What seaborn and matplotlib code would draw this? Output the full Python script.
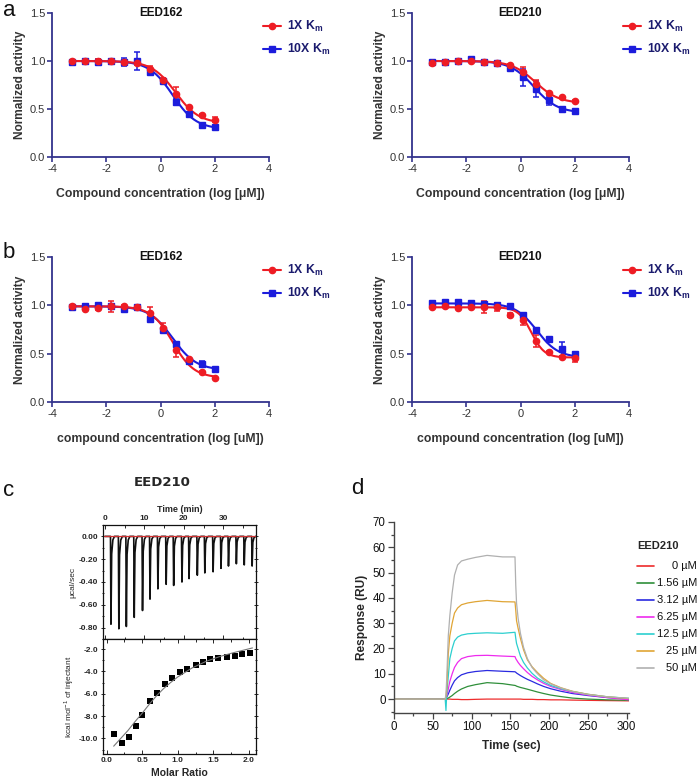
import numpy as np
import pandas as pd
import matplotlib
matplotlib.use('Agg')
import matplotlib.pyplot as plt
import seaborn as sns
from matplotlib.lines import Line2D
from matplotlib.ticker import MultipleLocator, FormatStrFormatter

sns.set_theme(style='ticks')
plt.rcParams['font.family'] = ['Liberation Sans', 'DejaVu Sans']
plt.rcParams['axes.unicode_minus'] = False
plt.rcParams['mathtext.fontset'] = 'custom'
plt.rcParams['mathtext.rm'] = 'Liberation Sans'
plt.rcParams['mathtext.bf'] = 'Liberation Sans:bold'

# ---------------- data: dose response (panels a, b) ----------------
log_conc = [-3.25, -2.77, -2.29, -1.82, -1.34, -0.86, -0.39, 0.09, 0.57, 1.05, 1.52, 2.00]

a162_1x = [1.00, 1.00, 1.00, 1.00, 0.99, 0.98, 0.92, 0.80, 0.66, 0.52, 0.44, 0.39]
a162_1x_err = [0.01, 0.01, 0.02, 0.01, 0.02, 0.02, 0.03, 0.02, 0.07, 0.01, 0.01, 0.03]
a162_10x = [0.99, 1.00, 0.99, 1.00, 0.99, 1.00, 0.89, 0.79, 0.57, 0.45, 0.33, 0.31]
a162_10x_err = [0.02, 0.01, 0.03, 0.01, 0.04, 0.09, 0.02, 0.02, 0.03, 0.02, 0.01, 0.02]
a210_1x = [0.98, 0.99, 1.00, 1.00, 0.99, 0.98, 0.96, 0.89, 0.76, 0.67, 0.62, 0.58]
a210_1x_err = [0.02, 0.01, 0.02, 0.01, 0.02, 0.02, 0.01, 0.05, 0.04, 0.01, 0.01, 0.01]
a210_10x = [0.99, 0.99, 1.00, 1.02, 0.99, 0.98, 0.93, 0.83, 0.71, 0.59, 0.50, 0.48]
a210_10x_err = [0.01, 0.01, 0.01, 0.01, 0.02, 0.01, 0.01, 0.09, 0.08, 0.05, 0.01, 0.01]
b162_1x = [0.99, 0.96, 0.97, 0.99, 0.99, 0.98, 0.92, 0.77, 0.54, 0.44, 0.31, 0.25]
b162_1x_err = [0.01, 0.01, 0.02, 0.06, 0.01, 0.01, 0.06, 0.05, 0.07, 0.01, 0.01, 0.01]
b162_10x = [0.98, 0.99, 1.00, 0.99, 0.96, 0.98, 0.86, 0.74, 0.60, 0.42, 0.39, 0.34]
b162_10x_err = [0.01, 0.01, 0.01, 0.01, 0.01, 0.01, 0.02, 0.02, 0.02, 0.01, 0.03, 0.01]
b210_1x = [0.98, 0.99, 0.97, 0.98, 0.98, 0.98, 0.90, 0.85, 0.63, 0.52, 0.47, 0.46]
b210_1x_err = [0.01, 0.01, 0.01, 0.01, 0.06, 0.04, 0.02, 0.05, 0.06, 0.01, 0.01, 0.05]
b210_10x = [1.02, 1.03, 1.03, 1.02, 1.01, 1.00, 0.99, 0.90, 0.74, 0.65, 0.55, 0.50]
b210_10x_err = [0.01, 0.01, 0.01, 0.01, 0.01, 0.01, 0.01, 0.01, 0.02, 0.01, 0.07, 0.02]

# 4-parameter logistic fit parameters: top, bottom, logIC50, hill
fit_a162_1x = [1.00, 0.35, 0.55, 1.0]
fit_a162_10x = [1.00, 0.29, 0.45, 1.0]
fit_a210_1x = [1.00, 0.56, 0.55, 1.0]
fit_a210_10x = [1.00, 0.46, 0.50, 1.0]
fit_b162_1x = [0.99, 0.25, 0.45, 1.1]
fit_b162_10x = [0.99, 0.33, 0.45, 1.0]
fit_b210_1x = [0.98, 0.46, 0.40, 1.8]
fit_b210_10x = [1.02, 0.46, 0.60, 1.1]

# ---------------- data: ITC (panel c) ----------------
inj_time = [1.4, 3.4, 5.3, 7.3, 9.4, 11.3, 13.3, 15.4, 17.3, 19.4, 21.2, 23.3, 25.2, 27.3, 29.3, 31.2, 33.2, 35.2, 37.2]
peak_depth = [-0.77, -0.81, -0.79, -0.71, -0.65, -0.55, -0.46, -0.42, -0.43, -0.40, -0.37, -0.34, -0.32, -0.31, -0.28, -0.26, -0.24, -0.25, -0.26]
molar_ratio = [0.11, 0.21, 0.31, 0.41, 0.50, 0.61, 0.71, 0.82, 0.92, 1.03, 1.13, 1.25, 1.36, 1.46, 1.57, 1.69, 1.80, 1.91, 2.02]
heat = [-9.57, -10.41, -9.87, -8.92, -7.93, -6.67, -5.95, -5.17, -4.57, -4.07, -3.80, -3.44, -3.14, -2.87, -2.81, -2.75, -2.66, -2.48, -2.36]
fit_ratio = [0.10, 0.20, 0.30, 0.40, 0.50, 0.60, 0.70, 0.80, 0.90, 1.00, 1.20, 1.40, 1.60, 1.80, 2.05]
fit_heat = [-10.7, -10.0, -9.3, -8.5, -7.75, -6.95, -6.2, -5.55, -5.0, -4.5, -3.7, -3.1, -2.65, -2.3, -1.9]

# ---------------- data: SPR (panel d) ----------------
spr_time = [0, 66, 67, 68, 70, 72, 75, 78, 82, 87, 95, 105, 120, 140, 156, 157, 158, 160, 163, 167,
            172, 178, 185, 193, 202, 215, 230, 250, 275, 303]
spr_labels = ['0 µM', '1.56 µM', '3.12 µM', '6.25 µM', '12.5 µM', '25 µM', '50 µM']
spr_0 = [0, 0, 0, 0, 0, 0, -0.1, -0.1, -0.1, -0.2, -0.2, -0.1, 0, 0, 0, 0, 0, 0, 0, -0.1,
         -0.1, -0.1, -0.2, -0.2, -0.3, -0.3, -0.4, -0.5, -0.6, -0.7]
spr_1p56 = [0, 0, 0.1, 0.2, 0.4, 0.8, 1.4, 2.2, 3.1, 4, 5, 5.7, 6.5, 6.1, 5.4, 5.3, 5.1, 4.9, 4.6, 4.3,
            3.9, 3.4, 2.8, 2.2, 1.6, 1, 0.4, 0, -0.3, -0.5]
spr_3p12 = [0, 0, 0.3, 0.8, 2, 3.5, 5.5, 7.2, 8.5, 9.6, 10.4, 10.9, 11.3, 11, 10.8, 10.6, 10.3, 9.9, 9.3, 8.6,
            7.8, 7, 6, 5, 4.1, 3.1, 2.2, 1.4, 0.6, 0]
spr_6p25 = [0, 0, 0.5, 1, 4, 7, 10, 12.5, 14.5, 16, 16.8, 17.2, 17.3, 17, 16.8, 16, 15.5, 14.5, 13.3, 12,
            10.5, 9, 7.6, 6.2, 5, 3.8, 2.6, 1.6, 0.6, -0.3]
spr_12p5 = [0, 0, -4.5, 2, 9, 16, 20, 23, 24.5, 25.3, 25.8, 26, 26.2, 26, 26.4, 24, 22, 20, 17, 14.5,
            12.3, 10.2, 8.3, 6.8, 5.4, 4.1, 3, 1.9, 0.9, 0.3]
spr_25 = [0, 0, 1, 4, 18, 25, 30, 34, 36, 37.3, 38, 38.5, 39, 38.5, 38.4, 35, 31, 28, 24, 19.5,
          15.5, 12.8, 10.5, 8.2, 6.2, 4.5, 3.1, 1.9, 0.9, 0.2]
spr_50 = [0, 0, 2, 8, 25, 33, 42, 49, 53, 54.6, 55.3, 56, 56.8, 56.2, 56.2, 45, 38, 32, 26, 20.5,
          16, 12.5, 10, 7.6, 6, 4.4, 3, 1.8, 0.9, 0.3]
spr_colors = ['#ee2b2b', '#2f8f3a', '#2a2ae0', '#ee2bee', '#2ccfcf', '#e0a535', '#b0b0b0']

# ---------------- styling ----------------
RED = '#ee1c24'
BLUE = '#1c1cdc'
NAVY = '#33338c'
LEGTXT = '#1b1b6e'
TXT = '#333333'

W, H = 699, 783
fig = plt.figure(figsize=(W / 100, H / 100), dpi=100)


def rect(x0, y0, x1, y1):
    return [x0 / W, 1 - y1 / H, (x1 - x0) / W, (y1 - y0) / H]


def four_pl(p, xx):
    top, bottom, lic50, hill = p
    return bottom + (top - bottom) / (1 + 10 ** ((xx - lic50) * hill))


def dose_panel(box, title, y1, e1, y10, e10, f1, f10, xlabel):
    ax = fig.add_axes(box)
    xx = np.linspace(min(log_conc), max(log_conc), 200)
    for y, e, f, col, mk in [(y10, e10, f10, BLUE, 's'), (y1, e1, f1, RED, 'o')]:
        sns.lineplot(x=xx, y=four_pl(f, xx), ax=ax, color=col, lw=1.5)
        ax.errorbar(log_conc, y, yerr=e, fmt=mk, color=col, ms=4.5, capsize=2.2,
                    elinewidth=1.1, capthick=1.1, lw=0)
    ax.set_xlim(-4, 4)
    ax.set_ylim(0, 1.5)
    ax.set_xticks([-4, -2, 0, 2, 4])
    ax.set_yticks([0, 0.5, 1.0, 1.5])
    ax.yaxis.set_major_formatter(FormatStrFormatter('%.1f'))
    for s in ['top', 'right']:
        ax.spines[s].set_visible(False)
    for s in ['left', 'bottom']:
        ax.spines[s].set_color(NAVY)
        ax.spines[s].set_linewidth(1.3)
    ax.tick_params(colors=NAVY, labelcolor=TXT, labelsize=8, length=3.5, width=1.2, pad=1.5)
    ax.set_xlabel(xlabel, fontsize=8.8, fontweight='bold', color=TXT, labelpad=10)
    ax.set_ylabel('Normalized activity', fontsize=8.6, fontweight='bold', color=TXT, labelpad=3)
    ax.text(0.5, 1.0, title, transform=ax.transAxes, ha='center', va='center',
            fontsize=8.5, fontweight='bold', color='#111111')
    handles = [Line2D([0], [0], color=RED, marker='o', lw=1.5, ms=4.5),
               Line2D([0], [0], color=BLUE, marker='s', lw=1.5, ms=4.5)]
    leg = ax.legend(handles, [r'1X K$_\mathbf{m}$', r'10X K$_\mathbf{m}$'], loc='upper left',
                    bbox_to_anchor=(0.95, 0.99), frameon=False, handlelength=1.5,
                    handletextpad=0.5, labelspacing=0.65, borderaxespad=0,
                    prop={'weight': 'bold', 'size': 8.8})
    for t in leg.get_texts():
        t.set_color(LEGTXT)
    return ax


xl_a = 'Compound concentration (log [μM])'
xl_b = 'compound concentration (log [uM])'
dose_panel(rect(52, 13, 269, 157), 'EED162', a162_1x, a162_1x_err, a162_10x, a162_10x_err,
           fit_a162_1x, fit_a162_10x, xl_a)
dose_panel(rect(412, 13, 629, 157), 'EED210', a210_1x, a210_1x_err, a210_10x, a210_10x_err,
           fit_a210_1x, fit_a210_10x, xl_a)
dose_panel(rect(52, 257, 269, 402), 'EED162', b162_1x, b162_1x_err, b162_10x, b162_10x_err,
           fit_b162_1x, fit_b162_10x, xl_b)
dose_panel(rect(412, 257, 629, 402), 'EED210', b210_1x, b210_1x_err, b210_10x, b210_10x_err,
           fit_b210_1x, fit_b210_10x, xl_b)

# ---------------- panel c: ITC ----------------
ax_t = fig.add_axes(rect(103, 525, 256, 639))
ax_b = fig.add_axes(rect(103, 639, 256, 754))

trace_t = [0.0]
trace_y = [0.0]
for t, d in zip(inj_time, peak_depth):
    trace_t += [t, t + 0.12, t + 0.3, t + 0.6, t + 1.0]
    trace_y += [0.0, d, 0.2 * d, 0.04 * d, 0.0]
trace_t.append(38.3)
trace_y.append(0.0)
sns.lineplot(x=trace_t, y=trace_y, ax=ax_t, sort=False, estimator=None, color='#111111', lw=1.2)
ax_t.axhline(0, color='#d03030', lw=0.9)
ax_t.set_xlim(-0.5, 38.3)
ax_t.set_ylim(-0.9, 0.1)
ax_t.set_yticks([0, -0.2, -0.4, -0.6, -0.8])
ax_t.yaxis.set_major_formatter(FormatStrFormatter('%.2f'))
ax_t.yaxis.set_minor_locator(MultipleLocator(0.1))
ax_t.set_xticks([0, 10, 20, 30])
ax_t.xaxis.set_minor_locator(MultipleLocator(5))
ax_t.xaxis.tick_top()
ax_t.xaxis.set_label_position('top')
ax_t.set_xlabel('Time (min)', fontsize=6.5, fontweight='bold', labelpad=2)
ax_t.set_ylabel('μcal/sec', fontsize=6, labelpad=2)

sns.scatterplot(x=molar_ratio, y=heat, ax=ax_b, marker='s', s=18, color='black', edgecolor='black', linewidth=0)
sns.lineplot(x=fit_ratio, y=fit_heat, ax=ax_b, color='#777777', lw=0.8)
ax_b.set_xlim(-0.05, 2.1)
ax_b.set_ylim(-11.4, -1.1)
ax_b.set_xticks([0, 0.5, 1.0, 1.5, 2.0])
ax_b.xaxis.set_major_formatter(FormatStrFormatter('%.1f'))
ax_b.xaxis.set_minor_locator(MultipleLocator(0.25))
ax_b.set_yticks([-2, -4, -6, -8, -10])
ax_b.yaxis.set_major_formatter(FormatStrFormatter('%.1f'))
ax_b.yaxis.set_minor_locator(MultipleLocator(1))
ax_b.set_xlabel('Molar Ratio', fontsize=7.5, fontweight='bold', labelpad=3)
ax_b.set_ylabel(r'kcal mol$^{-1}$ of injectant', fontsize=6, labelpad=2)

for ax in (ax_t, ax_b):
    for s in ax.spines.values():
        s.set_color('#111111')
        s.set_linewidth(0.9)
    ax.tick_params(which='both', direction='in', top=True, right=True, left=True, bottom=True,
                   labelsize=6, width=0.7, pad=2)
    ax.tick_params(axis='y', which='both', direction='inout')
    ax.tick_params(which='major', length=3)
    ax.tick_params(which='minor', length=1.8)
    for lab in ax.get_xticklabels() + ax.get_yticklabels():
        lab.set_fontweight('bold')
ax_t.tick_params(axis='x', labelbottom=False, labeltop=True)
fig.text(162 / W, 1 - 483 / H, 'EED210', ha='center', va='center', fontsize=9.5,
         fontweight='bold', family='DejaVu Sans')

# ---------------- panel d: SPR ----------------
ax_d = fig.add_axes(rect(394, 522, 629, 713))
spr_series = [spr_0, spr_1p56, spr_3p12, spr_6p25, spr_12p5, spr_25, spr_50]
df = pd.DataFrame({
    'time': np.tile(spr_time, len(spr_series)),
    'resp': np.concatenate(spr_series),
    'conc': np.repeat(spr_labels, len(spr_time)),
})
sns.lineplot(data=df, x='time', y='resp', hue='conc', hue_order=spr_labels,
             palette=dict(zip(spr_labels, spr_colors)), ax=ax_d, legend=False, lw=0.9,
             estimator=None, sort=False)
ax_d.set_xlim(0, 303)
ax_d.set_ylim(-5.5, 70)
ax_d.set_xticks(range(0, 301, 50))
ax_d.xaxis.set_minor_locator(MultipleLocator(25))
ax_d.set_yticks(range(0, 71, 10))
ax_d.yaxis.set_minor_locator(MultipleLocator(5))
for s in ['top', 'right']:
    ax_d.spines[s].set_visible(False)
for s in ['left', 'bottom']:
    ax_d.spines[s].set_color('#444444')
    ax_d.spines[s].set_linewidth(1.0)
ax_d.tick_params(which='both', colors='#444444', labelcolor='#111111', labelsize=8.3, width=0.9, pad=2)
ax_d.tick_params(which='major', length=4)
ax_d.tick_params(which='minor', length=2.5)
ax_d.set_xlabel('Time (sec)', fontsize=8.6, fontweight='bold', labelpad=5)
ax_d.set_ylabel('Response (RU)', fontsize=8.6, fontweight='bold', labelpad=3)

fig.text(637 / W, 1 - 546 / H, 'EED210', ha='left', va='center', fontsize=8, fontweight='bold')
for i, (lab, col) in enumerate(zip(spr_labels, spr_colors)):
    yy = 1 - (566 + i * 17) / H
    fig.add_artist(Line2D([637 / W, 654 / W], [yy, yy], transform=fig.transFigure, color=col, lw=1.2))
    fig.text(697 / W, yy, lab, ha='right', va='center', fontsize=8, color='#111111')

# ---------------- panel letters ----------------
for letter, (px, py) in {'a': (9, 11), 'b': (9, 253), 'c': (9, 490), 'd': (357, 488)}.items():
    fig.text(px / W, 1 - py / H, letter, ha='center', va='center', fontsize=16, color='#111111')

fig.savefig('out.png', dpi=100)
